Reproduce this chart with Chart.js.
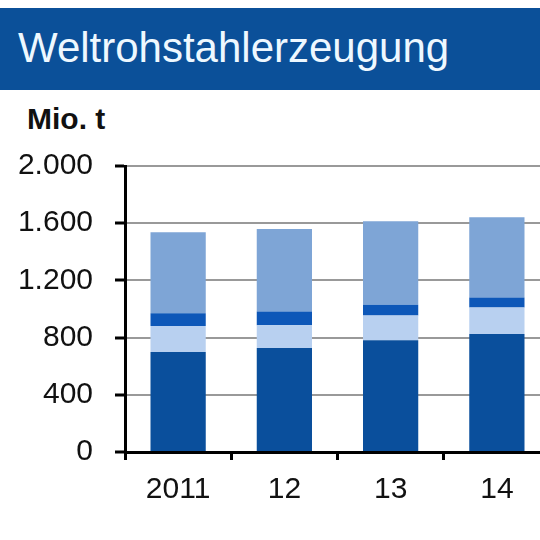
<!DOCTYPE html>
<html>
<head>
<meta charset="utf-8">
<script src="https://cdn.jsdelivr.net/npm/chart.js@4/dist/chart.umd.min.js"></script>
<style>
  html, body { margin:0; padding:0; width:540px; height:540px; overflow:hidden; background:#fff; }
  #banner { position:absolute; left:0; top:8px; width:540px; height:82px; background:#0b5099; }
  #title { position:absolute; left:18px; top:24px; font-family:"Liberation Sans", Arial, sans-serif; font-size:42px; color:#eef8ff; white-space:nowrap; line-height:48px; }
  #unit { position:absolute; left:27px; top:102px; font-family:"Liberation Sans", Arial, sans-serif; font-weight:bold; font-size:30px; color:#111; line-height:34px; }
  #wrap { position:absolute; left:0; top:126px; width:550px; height:414px; }
</style>
</head>
<body>
<div id="banner"></div>
<div id="title">Weltrohstahlerzeugung</div>
<div id="unit">Mio. t</div>
<div id="wrap"><canvas id="c"></canvas></div>
<script>
const categories = ["2011", "12", "13", "14"];
const seriesDark   = [700, 728, 782, 825];
const seriesLight  = [181, 158, 172, 186];
const seriesBand   = [90, 96, 76, 70];
const seriesTop    = [565, 578, 584, 561];
const yTicks = [0, 400, 800, 1200, 1600, 2000];

const fmt = v => v.toLocaleString('de-DE');

new Chart(document.getElementById('c'), {
  type: 'bar',
  data: {
    labels: categories,
    datasets: [
      { data: seriesDark,  backgroundColor: '#0a4f9c' },
      { data: seriesLight, backgroundColor: '#b8d0f0' },
      { data: seriesBand,  backgroundColor: '#0d57b8' },
      { data: seriesTop,   backgroundColor: '#7ea5d6' }
    ]
  },
  options: {
    responsive: true,
    maintainAspectRatio: false,
    animation: false,
    layout: { padding: { top: 0, right: 0, left: 0, bottom: 0 } },
    plugins: { legend: { display: false }, tooltip: { enabled: false }, title: { display: false } },
    datasets: { bar: { barPercentage: 1, categoryPercentage: 0.52, borderWidth: 0 } },
    scales: {
      x: {
        stacked: true,
        grid: { display: true, drawOnChartArea: false, offset: true, tickColor: '#000', tickLength: 8, tickWidth: 3 },
        border: { display: true, color: '#000', width: 3 },
        ticks: { color: '#111', font: { family: '"Liberation Sans", Arial, sans-serif', size: 30 }, padding: 12 },
        afterFit: s => { s.height = 88; }
      },
      y: {
        stacked: true,
        min: 0, max: 2000,
        afterBuildTicks: s => { s.ticks = yTicks.map(v => ({ value: v })); },
        grid: { color: '#999', lineWidth: 2, tickColor: '#000', tickLength: 10, tickWidth: 3 },
        border: { display: true, color: '#000', width: 3 },
        ticks: { color: '#111', font: { family: '"Liberation Sans", Arial, sans-serif', size: 30 }, padding: 22, callback: v => fmt(v) },
        afterFit: s => { s.width = 125; }
      }
    }
  }
});
</script>
</body>
</html>
